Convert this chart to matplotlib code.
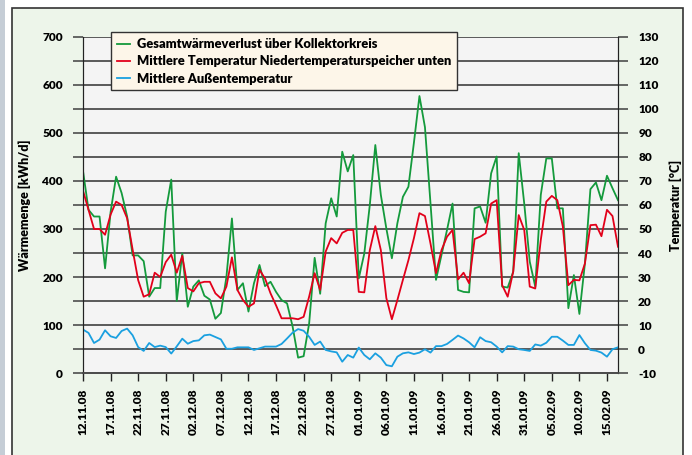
import datetime as dt
import matplotlib
matplotlib.use("Agg")
import matplotlib.pyplot as plt
import matplotlib.dates as mdates
from matplotlib.patches import Rectangle

plt.rcParams['font.family'] = ['Lato', 'DejaVu Sans']
plt.rcParams['font.weight'] = 'heavy'

start_date = dt.date(2008, 11, 12)

# Gesamtwärmeverlust über Kollektorkreis [kWh/d]
waermeverlust = [421, 340, 326, 326, 218, 335, 409, 375, 326, 245,
                 245, 233, 159, 177, 177, 336, 403, 150, 249, 138,
                 180, 193, 161, 153, 113, 125, 200, 322, 173, 187,
                 128, 187, 225, 181, 190, 169, 152, 145, 97, 32,
                 35, 103, 240, 165, 312, 364, 326, 461, 420, 454,
                 197, 249, 350, 475, 371, 301, 239, 312, 367, 388,
                 480, 577, 512, 354, 194, 246, 298, 353, 173, 169,
                 168, 343, 347, 313, 416, 451, 180, 178, 211, 458,
                 353, 232, 180, 371, 447, 447, 343, 343, 135, 204,
                 123, 228, 383, 397, 360, 411, 385, 360]

# Mittlere Temperatur Niedertemperaturspeicher unten [°C]
temp_speicher = [66, 58, 50, 50, 47.6, 56, 61.4, 60, 54.5, 41.4,
                 28.7, 21.8, 22.8, 31.8, 30, 36.2, 39.3, 31.8, 38.8, 25.4,
                 24, 27.4, 28, 28, 23.2, 21.1, 26, 38.2, 24.6, 20.4,
                 17.6, 19, 33, 29.4, 23.2, 18.2, 12.8, 12.8, 12.8, 12.4,
                 13.4, 21.8, 31.6, 24.6, 40.6, 46.2, 44, 48.4, 49.6, 49.6,
                 23.8, 23.6, 41.2, 51.2, 41.2, 21.2, 12.4, 20.4, 28.8, 37,
                 46.2, 56.6, 55.4, 44, 31.6, 41.2, 46.8, 49.6, 29, 31.8,
                 27.4, 45.8, 46.8, 48.2, 60.6, 62, 26.6, 21.8, 32.2, 55.8,
                 49.6, 26, 25.2, 45.4, 61.4, 63.8, 62, 51, 26.6, 28.8,
                 28.6, 35.6, 51.6, 51.8, 47, 58, 55.4, 42.6]

# Mittlere Außentemperatur [°C]
temp_aussen = [8.1, 6.7, 2.5, 3.9, 7.8, 5.3, 4.6, 7.5, 8.5, 5.7,
               0.8, -0.8, 2.5, 0.8, 1.4, 0.8, -1.9, 1.1, 4.3, 2.2,
               3.3, 3.6, 5.7, 6.0, 5.0, 4.0, 0.1, 0.1, 0.7, 0.7,
               0.7, -0.4, 0.3, 1.0, 1.0, 1.0, 2.1, 4.4, 6.8, 8.3,
               7.6, 5.1, 1.7, 3.1, -0.4, -1.0, -1.4, -5.3, -2.5, -3.6,
               0.6, -2.5, -4.3, -1.8, -3.6, -6.7, -7.2, -3.2, -1.8, -1.4,
               -2.1, -1.5, -0.1, -1.5, 1.2, 1.2, 2.1, 3.8, 5.6, 4.4,
               2.8, 0.7, 4.9, 3.3, 2.8, 1.0, -1.4, 1.2, 1.0, -0.1,
               -0.4, -0.8, 1.9, 1.4, 2.6, 5.1, 5.1, 3.5, 1.7, 1.7,
               5.8, 2.4, -0.4, -0.7, -1.5, -3.2, -0.1, 0.7]

labels = ["Gesamtwärmeverlust über Kollektorkreis",
          "Mittlere Temperatur Niedertemperaturspeicher unten",
          "Mittlere Außentemperatur"]
left_ticks = list(range(0, 701, 50))
right_ticks = list(range(-10, 131, 10))

dates = [start_date + dt.timedelta(days=i) for i in range(len(waermeverlust))]
tick_dates = dates[::5]

W, H = 692, 455
fig = plt.figure(figsize=(W / 100, H / 100), dpi=100)
fig.patch.set_facecolor('white')
fig.patches.append(Rectangle((0, 0), 5 / W, 1, transform=fig.transFigure,
                             facecolor='#c5cdd6', edgecolor='none', zorder=-20))
fig.patches.append(Rectangle((12 / W, -0.05), (683 - 12) / W, 1.05 - 8 / H,
                             transform=fig.transFigure, facecolor='#edf5ea',
                             edgecolor='#333333', lw=1.2, zorder=-10))

ax = fig.add_axes([83 / W, 1 - 373 / H, (618 - 83) / W, (373 - 37) / H])
ax.set_facecolor('#f4f4f4')
ax2 = ax.twinx()

grid_c = '#4d4d4d'
l1, = ax.plot(dates, waermeverlust, color='#149a3c', lw=1.3)
l2, = ax2.plot(dates, temp_speicher, color='#e2001a', lw=1.3)
l3, = ax2.plot(dates, temp_aussen, color='#1aa0e0', lw=1.3)

ax.set_ylim(0, 700)
ax2.set_ylim(-10, 130)
ax.set_xlim(dates[0], dates[-1])

ax.set_yticks(left_ticks)
ax.set_yticklabels([str(v) if v % 100 == 0 else '' for v in left_ticks])
ax2.set_yticks(right_ticks)
ax2.set_yticklabels([str(v) for v in right_ticks])
ax.yaxis.grid(True, color=grid_c, lw=1.3)
ax.set_axisbelow(True)

ax.set_xticks(tick_dates)
ax.xaxis.set_major_formatter(mdates.DateFormatter('%d.%m.%y'))
plt.setp(ax.get_xticklabels(), rotation=90)

ax.tick_params(axis='y', direction='out', length=7.5, width=1.2, color=grid_c,
               labelsize=8.5, pad=7)
ax2.tick_params(axis='y', direction='out', length=7.5, width=1.2, color=grid_c,
                labelsize=8.5, pad=7)
ax.tick_params(axis='x', direction='out', length=6, width=1.0, color='#222222',
               labelsize=8.5, pad=5)
for lab in ax.get_xticklabels() + ax.get_yticklabels() + ax2.get_yticklabels():
    lab.set_fontweight('heavy')

for a in (ax, ax2):
    a.spines['top'].set_visible(False)
    a.spines['left'].set_color('#222222')
    a.spines['right'].set_color('#222222')
    a.spines['bottom'].set_color(grid_c)
    a.spines['bottom'].set_linewidth(1.3)

ax.set_ylabel('Wärmemenge [kWh/d]', fontsize=9, fontweight='heavy', labelpad=8)
ax2.set_ylabel('Temperatur [°C]', fontsize=9, fontweight='heavy', labelpad=8)

leg = fig.legend([l1, l2, l3], labels, loc='upper left',
                 bbox_to_anchor=(105 / W, 1 - 26 / H), fontsize=9.3,
                 frameon=True, fancybox=False, handlelength=1.0,
                 handletextpad=0.5, borderpad=0.45, labelspacing=0.4)
leg.get_frame().set_facecolor('#fdf6e9')
leg.get_frame().set_edgecolor('#333333')
leg.get_frame().set_alpha(1)
leg.get_frame().set_linewidth(1.0)
for t in leg.get_texts():
    t.set_fontweight('heavy')

fig.savefig('out.png', dpi=100, facecolor=fig.get_facecolor())
